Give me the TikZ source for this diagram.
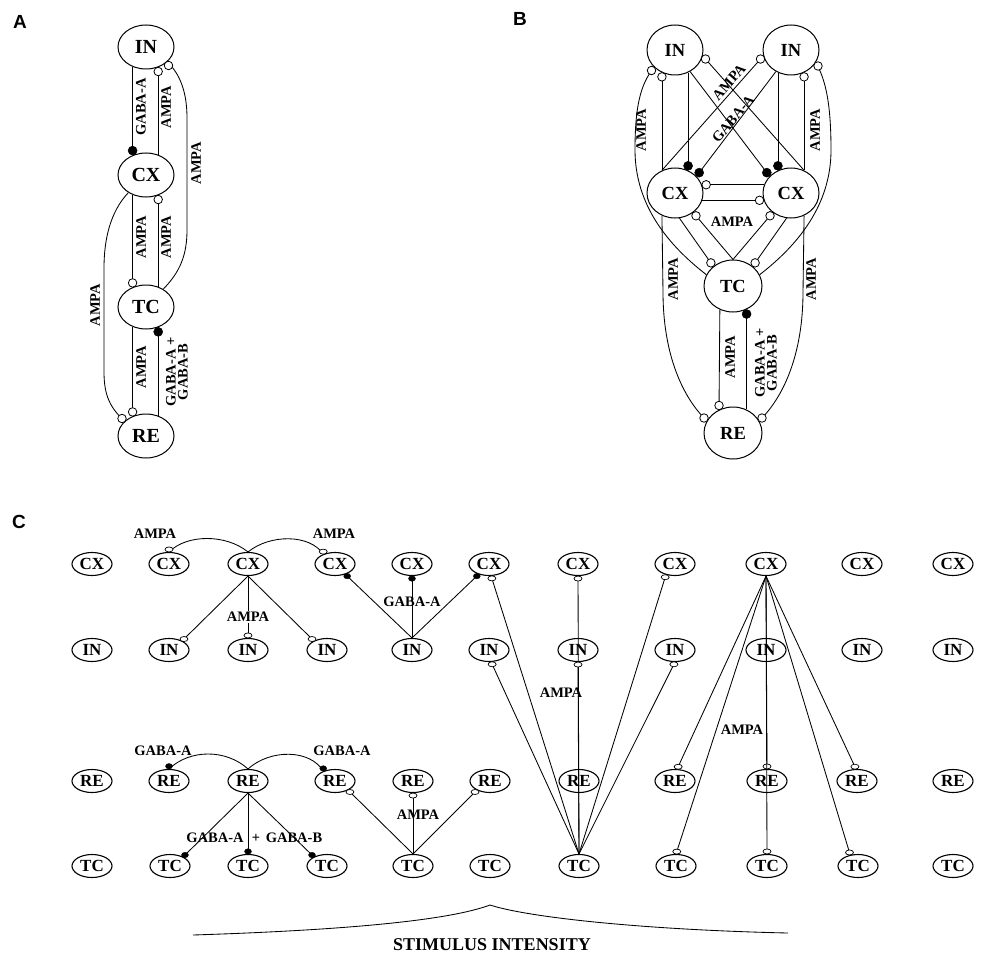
\documentclass[tikz,border=0pt]{standalone}
\usepackage{fontspec}
\setmainfont{Liberation Serif}
\newfontfamily\lettersf{Liberation Sans}
\usetikzlibrary{shapes.geometric,calc}
\newcommand{\syn}[4]{\draw (#2) -- (#3); \node[#1] at ($(#3)!#4!(#2)$) {};}
\begin{document}
\begin{tikzpicture}[x=1pt,y=-1pt,line width=0.85pt,
  cellA/.style={ellipse,draw,line width=1pt,minimum width=56,minimum height=44,inner sep=0,font=\fontsize{20}{20}\selectfont\bfseries},
  cellB/.style={ellipse,draw,line width=1pt,minimum width=56,minimum height=50,inner sep=0,font=\fontsize{18.5}{18}\selectfont\bfseries},
  cellBb/.style={cellB,minimum width=58,minimum height=52},
  cellC/.style={ellipse,draw,line width=1.1pt,minimum width=40,minimum height=23,inner sep=0,font=\fontsize{17}{17}\selectfont\bfseries},
  lab/.style={inner sep=0,font=\fontsize{14.5}{12}\selectfont\bfseries},
  osA/.style={circle,draw,fill=white,line width=0.8pt,minimum size=8.5,inner sep=0},
  fsA/.style={circle,draw,fill=black,line width=0.5pt,minimum size=9,inner sep=0},
  osC/.style={ellipse,draw,fill=white,line width=0.7pt,minimum width=8,minimum height=5,inner sep=0},
  fsC/.style={ellipse,draw,fill=black,line width=0.4pt,minimum width=7,minimum height=5.5,inner sep=0},
  letter/.style={inner sep=0,font=\lettersf\bfseries\fontsize{19}{19}\selectfont}]
\useasboundingbox (0,0) rectangle (982,955);

% panel letters
\node[letter] (pA) at (20,22) {A};
\node[letter] (pB) at (520,19) {B};
\node[letter] (pC) at (19,522) {C};

% ---------------- Panel A ----------------
\node[cellA] (INa) at (146,47) {IN};
\node[cellA] (CXa) at (146,175) {CX};
\node[cellA] (TCa) at (146,307) {TC};
\node[cellA] (REa) at (146,436) {RE};

\syn{fsA}{INa.-124}{CXa.124}{4.5pt}
\syn{osA}{CXa.59}{INa.-59}{4.2pt}
\syn{osA}{CXa.-124}{TCa.124}{4.2pt}
\syn{osA}{TCa.59}{CXa.-59}{4.2pt}
\syn{osA}{TCa.-124}{REa.124}{4.2pt}
\syn{fsA}{REa.59}{TCa.-59}{4.5pt}
\draw (TCa.46) .. controls (180,272) and (187,255) .. (187,230) -- (187,118) .. controls (187,92) and (180,74) .. (INa.-35);
\node[osA] at (168.5,65.5) {};
\draw (CXa.-135) .. controls (110,212) and (104,240) .. (104,268) -- (104,372) .. controls (104,395) and (110,408) .. (REa.145);
\node[osA] at (122,418.5) {};

\node[lab,rotate=90] at (141,107) {GABA-A};
\node[lab,rotate=90] at (166,107) {AMPA};
\node[lab,rotate=90] at (196,163) {AMPA};
\node[lab,rotate=90] at (141,237) {AMPA};
\node[lab,rotate=90] at (166,237) {AMPA};
\node[lab,rotate=90] at (95,305) {AMPA};
\node[lab,rotate=90] at (141,367) {AMPA};
\node[lab,rotate=90,align=center] at (177,372) {GABA-A +\\GABA-B};

% ---------------- Panel B ----------------
\node[cellB] (INl) at (675,50) {IN};
\node[cellB] (INr) at (791,50) {IN};
\node[cellB] (CXl) at (675,193) {CX};
\node[cellB] (CXr) at (791,193) {CX};
\node[cellBb] (TCb) at (733,286) {TC};
\node[cellBb] (REb) at (733,433) {RE};

\syn{osA}{CXl.120}{INl.-120}{4.2pt}
\syn{fsA}{INl.-60}{CXl.60}{4.5pt}
\syn{fsA}{INr.-120}{CXr.120}{4.5pt}
\syn{osA}{CXr.60}{INr.-60}{4.2pt}
\syn{osA}{CXr.60}{INl.-12}{4.2pt}
\syn{osA}{CXl.120}{INr.-168}{4.2pt}
\syn{fsA}{INl.-55}{CXr.142}{4.5pt}
\syn{fsA}{INr.-125}{CXl.38}{4.5pt}
\syn{osA}{CXr.163}{CXl.17}{4.2pt}
\syn{osA}{CXl.-15}{CXr.-165}{4.2pt}
\syn{osA}{CXl.-80}{TCb.135}{4.2pt}
\syn{osA}{TCb.north}{CXl.-47}{4.2pt}
\syn{osA}{CXr.-100}{TCb.45}{4.2pt}
\syn{osA}{TCb.north}{CXr.-133}{4.2pt}
\syn{osA}{TCb.-119}{REb.121}{4.2pt}
\syn{fsA}{REb.60}{TCb.-60}{4.5pt}
\draw (TCb.157) .. controls (668,245) and (635,205) .. (635,150) .. controls (635,108) and (640,84) .. (INl.-140);
\node[osA] at (651.5,70.5) {};
\draw (TCb.23) .. controls (798,245) and (831,205) .. (831,150) .. controls (831,105) and (826,80) .. (INr.-27);
\node[osA] at (818,66) {};
\draw (CXl.-120) -- (663,292) .. controls (663,355) and (683,398) .. (REb.155);
\node[osA] at (704,418) {};
\draw (CXr.-60) -- (803,292) .. controls (803,355) and (783,398) .. (REb.25);
\node[osA] at (762,418) {};

\node[lab,rotate=90] at (641,130) {AMPA};
\node[lab,rotate=90] at (815,130) {AMPA};
\node[lab,rotate=49] at (729,82) {AMPA};
\node[lab,rotate=50] at (733,119) {GABA-A};
\node[lab] at (732,222) {AMPA};
\node[lab,rotate=90] at (673,279) {AMPA};
\node[lab,rotate=90] at (811,279) {AMPA};
\node[lab,rotate=90] at (730,357) {AMPA};
\node[lab,rotate=90,align=center] at (766,363) {GABA-A +\\GABA-B};

% ---------------- Panel C ----------------
\foreach \i/\x in {1/92,2/169,3/248,4/335,5/412,6/489,7/578,8/675,9/766,10/862,11/953}
  \node[cellC] (cx\i) at (\x,564) {CX};
\foreach \i/\x in {1/92,2/169,3/248,4/327,5/412,6/489,7/578,8/675,9/766,10/862,11/953}
  \node[cellC] (in\i) at (\x,650) {IN};
\foreach \i/\x in {1/92,2/169,3/248,4/335,5/413,6/490,7/579,8/675,9/767,10/857,11/953}
  \node[cellC] (re\i) at (\x,781) {RE};
\foreach \i/\x in {1/92,2/170,3/248,4/327,5/413,6/490,7/579,8/676,9/767,10/858,11/953}
  \node[cellC] (tc\i) at (\x,866) {TC};

% CX group
\draw (cx3.north) .. controls (226,534) and (187,534) .. (cx2.north);
\node[osC] at ($(cx2.north)+(0,-2.5)$) {};
\draw (cx3.north) .. controls (270,534) and (310,534) .. (cx4.140);
\node[osC] at ($(cx4.140)+(0,-2.5)$) {};
\syn{osC}{cx3.south}{in2.35}{2.5pt}
\syn{osC}{cx3.south}{in3.north}{2.5pt}
\syn{osC}{cx3.south}{in4.145}{2.5pt}
\node[lab] at (155,534) {AMPA};
\node[lab] at (334,534) {AMPA};
\node[lab,fill=white,inner sep=1pt] at (248,617) {AMPA};

% IN group
\syn{fsC}{in5.north}{cx4.-45}{2.5pt}
\syn{fsC}{in5.north}{cx5.south}{2.5pt}
\syn{fsC}{in5.north}{cx6.-135}{2.5pt}
\node[lab] at (412,602) {GABA-A};

% TC group (column 7)
\syn{osC}{tc7.north}{cx6.-80}{2.5pt}
\syn{osC}{tc7.north}{in6.-80}{2.5pt}
\syn{osC}{tc7.north}{cx7.south}{2.5pt}
\syn{osC}{tc7.north}{in7.south}{2.5pt}
\syn{osC}{tc7.north}{cx8.-130}{2.5pt}
\syn{osC}{tc7.north}{in8.south}{2.5pt}
\node[lab] at (561,693) {AMPA};

% RE group
\draw (re3.north) .. controls (226,749) and (190,749) .. (re2.north);
\node[fsC] at ($(re2.north)+(0,-2.7)$) {};
\draw (re3.north) .. controls (270,749) and (310,749) .. (re4.140);
\node[fsC] at ($(re4.140)+(0,-2.7)$) {};
\syn{fsC}{re3.south}{tc2.35}{2.5pt}
\syn{fsC}{re3.south}{tc3.north}{2.5pt}
\syn{fsC}{re3.south}{tc4.145}{2.5pt}
\node[lab] at (163,751) {GABA-A};
\node[lab] at (342,751) {GABA-A};
\node[lab] at (215,838) {GABA-A};
\node[lab] at (256,838) {+};
\node[lab] at (294,838) {GABA-B};

% TC group (column 5)
\syn{osC}{tc5.north}{re4.-35}{2.5pt}
\syn{osC}{tc5.north}{re5.south}{2.5pt}
\syn{osC}{tc5.north}{re6.-145}{2.5pt}
\node[lab] at (418,815) {AMPA};

% CX group (column 9)
\syn{osC}{cx9.south}{re8.80}{2.5pt}
\syn{osC}{cx9.south}{tc8.north}{2.5pt}
\syn{osC}{cx9.south}{re9.north}{2.5pt}
\syn{osC}{cx9.south}{tc9.north}{2.5pt}
\syn{osC}{cx9.south}{re10.95}{2.5pt}
\syn{osC}{cx9.south}{tc10.125}{2.5pt}
\node[lab] at (742,730) {AMPA};

% stimulus intensity
\coordinate (sL) at (193,935);
\coordinate (sP) at (490,905);
\coordinate (sR) at (788,933);
\draw (sL) .. controls (350,930) and (450,920) .. (sP) .. controls (530,918) and (650,930) .. (sR);
\node[inner sep=0,font=\fontsize{18}{18}\selectfont\bfseries] (stim) at (492,945) {STIMULUS INTENSITY};
\end{tikzpicture}
\end{document}
